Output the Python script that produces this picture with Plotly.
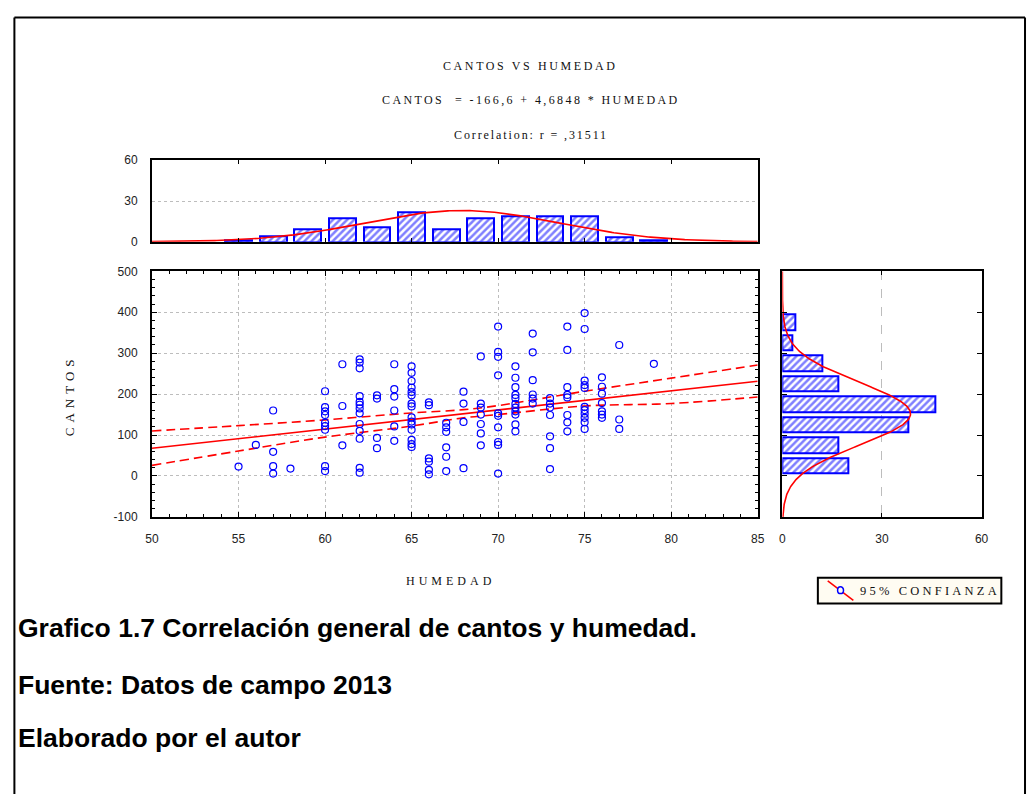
import numpy as np
import plotly.graph_objects as go

# ---------------- data ----------------
scatter_cols = {
    55: [23],
    56: [76],
    57: [160, 59, 24, 6],
    58: [18],
    60: [207, 168, 158, 149, 130, 122, 113, 24, 12],
    61: [273, 171, 75],
    62: [285, 277, 263, 195, 181, 174, 165, 153, 127, 110, 91, 20, 8],
    63: [197, 189, 93, 68],
    64: [273, 212, 194, 160, 121, 86],
    65: [268, 252, 232, 216, 205, 197, 177, 170, 143, 133, 126, 113, 88, 78, 71],
    66: [180, 173, 43, 35, 15, 4],
    67: [130, 119, 108, 70, 47, 12],
    68: [206, 177, 132, 19],
    69: [292, 177, 167, 150, 127, 104, 75],
    70: [365, 303, 291, 246, 153, 147, 119, 83, 76, 6],
    71: [268, 240, 217, 198, 190, 176, 167, 158, 150, 126, 109],
    72: [348, 302, 234, 199, 189, 177],
    73: [190, 177, 167, 149, 97, 68, 17],
    74: [365, 308, 217, 198, 192, 149, 131, 109],
    75: [398, 359, 233, 222, 215, 169, 161, 152, 142, 131, 115],
    76: [241, 218, 201, 178, 158, 150, 142],
    77: [320, 138, 115],
    79: [274],
}
humedad = [h for h, vals in scatter_cols.items() for _ in vals]
cantos = [v for vals in scatter_cols.values() for v in vals]

# regression (from chart title)
reg_a = -166.6
reg_b = 4.6848
reg_x = [50, 85]

# 95% confidence band
ci_x = [50, 55, 60, 65, 68, 70, 75, 80, 85]
ci_upper = [110, 123, 137, 154, 162, 172, 207, 239, 271]
ci_lower = [26, 61, 95, 122, 142, 150, 171, 177, 193]

# top histogram (HUMEDAD)
hum_bins = [55, 57, 59, 61, 63, 65, 67, 69, 71, 73, 75, 77, 79]
hum_counts = [1, 4, 9, 17, 11, 22, 9, 17, 19, 19, 19, 3, 1]
hum_norm = dict(mean=67.9, sd=5.6, peak=23.0)

# right histogram (CANTOS)
can_bins = [25, 75, 125, 175, 225, 275, 325, 375]
can_counts = [20, 17, 38, 46, 17, 12, 3, 4]
can_norm = dict(mean=152, sd=76, peak=38.6)

# axis tick labels
y_tickvals = [-100, 0, 100, 200, 300, 400, 500]
y_ticktext = ["-100", "0", "100", "200", "300", "400", "500"]

# ---------------- figure ----------------
W, H = 1033, 801
def px(x):
    return x / W
def py(y):
    return 1 - y / H

BLUE = "#0000FF"
RED = "#FF0000"
GRID = "#BDBDBD"
SERIF = "Liberation Serif, Times New Roman, serif"
NARROW = "Liberation Sans Narrow, Arial Narrow, Liberation Sans, Arial, sans-serif"
SANS = "Liberation Sans, Arial, sans-serif"

fig = go.Figure()

# confidence bands
fig.add_trace(go.Scatter(x=ci_x, y=ci_upper, mode="lines", line=dict(color=RED, width=1.6, dash="9px,5px", shape="spline"),
                         xaxis="x", yaxis="y", showlegend=False, hoverinfo="skip"))
fig.add_trace(go.Scatter(x=ci_x, y=ci_lower, mode="lines", line=dict(color=RED, width=1.6, dash="9px,5px", shape="spline"),
                         xaxis="x", yaxis="y", showlegend=False, hoverinfo="skip"))
# regression line
fig.add_trace(go.Scatter(x=reg_x, y=[reg_a + reg_b * v for v in reg_x], mode="lines",
                         line=dict(color=RED, width=1.6), xaxis="x", yaxis="y", showlegend=False))
# points
fig.add_trace(go.Scatter(x=humedad, y=cantos, mode="markers",
                         marker=dict(symbol="circle-open", size=7, color=BLUE, line=dict(width=1.2, color=BLUE)),
                         xaxis="x", yaxis="y", showlegend=False))

pattern = dict(shape="/", fgcolor=BLUE, bgcolor="white", size=5, solidity=0.5)
# top histogram
fig.add_trace(go.Bar(x=hum_bins, y=hum_counts, width=1.55, xaxis="x2", yaxis="y2",
                     marker=dict(color="white", pattern=pattern, line=dict(color=BLUE, width=2)), showlegend=False))
hx = np.linspace(50, 85, 300)
fig.add_trace(go.Scatter(x=hx, y=hum_norm["peak"] * np.exp(-0.5 * ((hx - hum_norm["mean"]) / hum_norm["sd"]) ** 2),
                         mode="lines", line=dict(color=RED, width=1.6), xaxis="x2", yaxis="y2", showlegend=False))
# right histogram
fig.add_trace(go.Bar(y=can_bins, x=can_counts, width=38, orientation="h", xaxis="x3", yaxis="y3",
                     marker=dict(color="white", pattern=pattern, line=dict(color=BLUE, width=2)), showlegend=False))
cy = np.linspace(-100, 500, 400)
fig.add_trace(go.Scatter(y=cy, x=can_norm["peak"] * np.exp(-0.5 * ((cy - can_norm["mean"]) / can_norm["sd"]) ** 2),
                         mode="lines", line=dict(color=RED, width=1.6), xaxis="x3", yaxis="y3", showlegend=False))

sc_x = [px(147), px(761)]
sc_y = [py(519), py(269)]
top_y = [py(239), py(156)]
rt_x = [px(786), px(988)]

common = dict(showline=True, linecolor="black", linewidth=2, mirror="ticks", ticks="inside",
              tickcolor="black", zeroline=False, tickfont=dict(family=NARROW, size=12, color="#222"))

fig.update_layout(
    width=W, height=H, margin=dict(l=0, r=0, t=0, b=0),
    paper_bgcolor="white", plot_bgcolor="white", bargap=0, showlegend=False,
    xaxis=dict(domain=sc_x, anchor="y", range=[50, 85], tickmode="linear", tick0=50, dtick=5, ticklen=5,
               showgrid=True, gridcolor=GRID, griddash="dot", gridwidth=1,
               minor=dict(dtick=1, tick0=50, ticks="inside", ticklen=3, tickcolor="black", showgrid=False),
               ticklabelstandoff=10, **common),
    yaxis=dict(domain=sc_y, anchor="x", range=[-100, 500], tickvals=y_tickvals, ticktext=y_ticktext, ticklen=5,
               showgrid=True, gridcolor=GRID, griddash="dot", gridwidth=1,
               minor=dict(dtick=20, tick0=0, ticks="inside", ticklen=3, tickcolor="black", showgrid=False),
               ticklabelstandoff=10, **common),
    xaxis2=dict(domain=sc_x, anchor="y2", range=[50, 85], tickvals=[55, 60, 65, 70, 75, 80], ticklen=4,
                showticklabels=False, showgrid=False, **common),
    yaxis2=dict(domain=top_y, anchor="x2", range=[0, 60], tickvals=[0, 30, 60], ticklen=0,
                showgrid=True, gridcolor=GRID, griddash="dot", ticklabelstandoff=10, **common),
    xaxis3=dict(domain=rt_x, anchor="y3", range=[0, 60], tickvals=[0, 30, 60], ticklen=4,
                showgrid=True, gridcolor=GRID, griddash="dash", ticklabelstandoff=10, **common),
    yaxis3=dict(domain=sc_y, anchor="x3", range=[-100, 500], tickvals=[0, 100, 200, 300, 400], ticklen=5,
                showticklabels=False, showgrid=False, **common),
)

def ls(text, sp):
    return "<span style='letter-spacing:%spx'>%s</span>" % (sp, text)

ann = [
    dict(x=px(530), y=py(60), text=ls("CANTOS VS HUMEDAD", 2.6), font=dict(family=SERIF, size=12, color="#111")),
    dict(x=px(531), y=py(95), text=ls("CANTOS  = -166,6 + 4,6848 * HUMEDAD", 2.4), font=dict(family=SERIF, size=12, color="#111")),
    dict(x=px(531), y=py(130), text=ls("Correlation: r = ,31511", 1.9), font=dict(family=SERIF, size=12, color="#111")),
    dict(x=px(63), y=py(395), text=ls("CANTOS", 5), textangle=-90, font=dict(family=SERIF, size=13, color="#111")),
    dict(x=px(450), y=py(584), text=ls("HUMEDAD", 4), font=dict(family=SERIF, size=12, color="#111")),
    dict(x=px(863), y=py(594), xanchor="left", text=ls("95% CONFIANZA", 3.2), font=dict(family=SERIF, size=12.5, color="#111")),
    dict(x=px(9), y=py(632), xanchor="left", text="<b>Grafico 1.7 Correlación general de cantos y humedad.</b>",
         font=dict(family=SANS, size=26.5, color="black")),
    dict(x=px(9), y=py(690), xanchor="left", text="<b>Fuente: Datos de campo 2013</b>",
         font=dict(family=SANS, size=26.5, color="black")),
    dict(x=px(9), y=py(744), xanchor="left", text="<b>Elaborado por el autor</b>",
         font=dict(family=SANS, size=26.5, color="black")),
]
for a in ann:
    a.setdefault("xanchor", "center")
    a.update(xref="paper", yref="paper", yanchor="middle", showarrow=False)
fig.update_layout(annotations=ann)

P = dict(xref="paper", yref="paper")
shapes = [
    # outer frame
    dict(type="line", x0=px(7.5), x1=px(1032), y0=py(10.7), y1=py(10.7), line=dict(color="black", width=2), **P),
    dict(type="line", x0=px(7.5), x1=px(7.5), y0=py(10.7), y1=0, line=dict(color="black", width=2), **P),
    dict(type="line", x0=px(1032), x1=px(1032), y0=py(10.7), y1=0, line=dict(color="black", width=2), **P),
    # legend box
    dict(type="rect", x0=px(822), x1=px(1008), y0=py(607), y1=py(581), fillcolor="#FFFCF2",
         line=dict(color="black", width=2), layer="below", **P),
    dict(type="line", x0=px(832), x1=px(858), y0=py(584), y1=py(604), line=dict(color=RED, width=1.5), **P),
    dict(type="circle", x0=px(842), x1=px(848), y0=py(597), y1=py(590), fillcolor="#FFFCF2",
         line=dict(color=BLUE, width=1.5), **P),
]
fig.update_layout(shapes=shapes)

fig.write_html(
    "out.html",
    post_script="document.documentElement.style.margin='0';document.body.style.margin='0';"
                "document.body.style.padding='0';document.documentElement.style.overflow='hidden';"
                "document.body.style.overflow='hidden';",
)
